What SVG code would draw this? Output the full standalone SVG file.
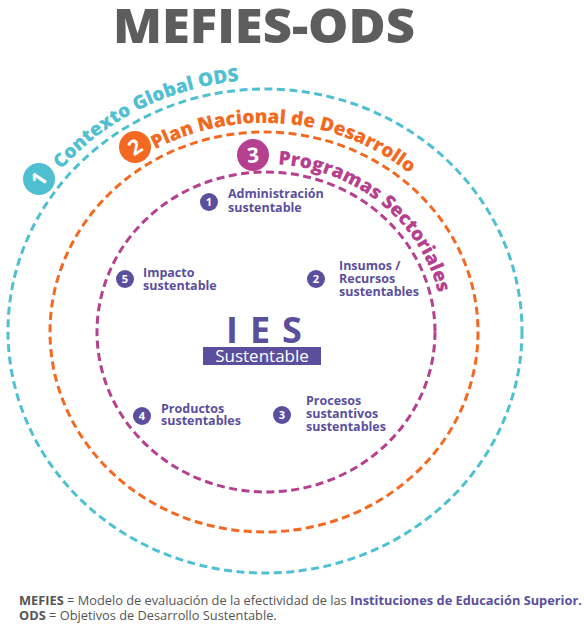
<svg xmlns="http://www.w3.org/2000/svg" width="584" height="628" viewBox="0 0 584 628">
<style>
.ring{fill:none;stroke-width:3;stroke-dasharray:8 4.5;stroke-linecap:butt}
.arc{font-family:"Open Sans","DejaVu Sans",sans-serif;font-weight:800;font-size:19px}
.lbl{font-family:"Open Sans","DejaVu Sans",sans-serif;font-weight:700;font-size:12.5px;fill:#5b4f9d}
.nb{font-family:"Open Sans","DejaVu Sans",sans-serif;font-weight:700;font-size:11px;fill:#fff;text-anchor:middle}
.bb{font-family:"Open Sans","DejaVu Sans",sans-serif;font-weight:700;font-size:21px;fill:#fff;text-anchor:middle}
.ft{font-family:"Open Sans","DejaVu Sans",sans-serif;font-size:12.8px;fill:#555}
</style>
<defs>
<path id="pc" d="M -1,331 A 266 251 0 0 1 531,331"/>
<path id="po" d="M 41,332 A 223 209 0 0 1 487,332"/>
<path id="pm" d="M 89,332 A 177 168 0 0 1 443,332"/>
</defs>
<text x="264" y="43" text-anchor="middle" font-family="Open Sans, DejaVu Sans, sans-serif" font-weight="800" font-size="48" fill="#5d5d5d" textLength="302" lengthAdjust="spacingAndGlyphs">MEFIES-ODS</text>
<g id="connectors">
<ellipse class="ring" cx="265" cy="331" rx="257" ry="242" stroke="#4fc0d2"/>
<ellipse class="ring" cx="264" cy="332" rx="214" ry="200" stroke="#f26a21"/>
<ellipse class="ring" cx="266" cy="332" rx="169" ry="160" stroke="#b5408f"/>
</g>
<g id="ring1">
<text class="arc" fill="#4fc0d2"><textPath href="#pc" startOffset="177">Contexto Global ODS</textPath></text>
<circle cx="39" cy="179" r="16" fill="#4fc0d2"/>
<text class="bb" x="39" y="179" dy="7.5" transform="rotate(-56 39 179)">1</text>
</g>
<g id="ring2">
<text class="arc" fill="#f26a21"><textPath href="#po" startOffset="226">Plan Nacional de Desarrollo</textPath></text>
<circle cx="135" cy="147" r="16" fill="#f26a21"/>
<text class="bb" x="135" y="147" dy="7.5" transform="rotate(-33 135 147)">2</text>
</g>
<g id="ring3">
<text class="arc" fill="#b5408f"><textPath href="#pm" startOffset="283">Programas Sectoriales</textPath></text>
<circle cx="253" cy="155" r="16" fill="#b5408f"/>
<text class="bb" x="253" y="155" dy="7.5" transform="rotate(-4 253 155)">3</text>
</g>
<g id="ies">
<text x="270" y="343" text-anchor="middle" font-family="Open Sans, DejaVu Sans, sans-serif" font-weight="700" font-size="36" fill="#5b4f9d" letter-spacing="12">IES</text>
<rect x="203" y="347" width="118" height="18" fill="#5b4f9d"/>
<text x="262" y="362" text-anchor="middle" font-family="Open Sans, DejaVu Sans, sans-serif" font-size="17" fill="#fff">Sustentable</text>
</g>
<g id="n1">
<circle cx="209" cy="202" r="9" fill="#5b4f9d"/><text class="nb" x="209" y="206">1</text>
<text class="lbl" x="228" y="198">Administración</text><text class="lbl" x="228" y="212">sustentable</text>
</g>
<g id="n2">
<circle cx="316" cy="279" r="9" fill="#5b4f9d"/><text class="nb" x="316" y="283">2</text>
<text class="lbl" x="339" y="270">Insumos /</text><text class="lbl" x="339" y="283">Recursos</text><text class="lbl" x="339" y="296">sustentables</text>
</g>
<g id="n3">
<circle cx="282" cy="415" r="9" fill="#5b4f9d"/><text class="nb" x="282" y="419">3</text>
<text class="lbl" x="306" y="405">Procesos</text><text class="lbl" x="306" y="418">sustantivos</text><text class="lbl" x="306" y="431">sustentables</text>
</g>
<g id="n4">
<circle cx="142" cy="416" r="9" fill="#5b4f9d"/><text class="nb" x="142" y="420">4</text>
<text class="lbl" x="161" y="413">Productos</text><text class="lbl" x="161" y="425">sustentables</text>
</g>
<g id="n5">
<circle cx="125" cy="279" r="9" fill="#5b4f9d"/><text class="nb" x="125" y="283">5</text>
<text class="lbl" x="143" y="277">Impacto</text><text class="lbl" x="143" y="290">sustentable</text>
</g>
<g id="footer">
<text class="ft" x="19" y="605"><tspan font-weight="700">MEFIES</tspan> = Modelo de evaluación de la efectividad de las <tspan font-weight="700" fill="#5b4f9d">Instituciones de Educación Superior.</tspan></text>
<text class="ft" x="19" y="620"><tspan font-weight="700">ODS</tspan> = Objetivos de Desarrollo Sustentable.</text>
</g>
</svg>
